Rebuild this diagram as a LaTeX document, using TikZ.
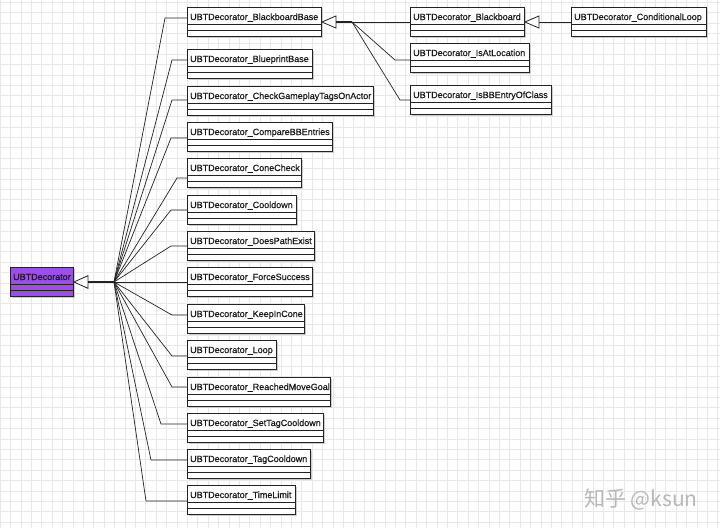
\documentclass[tikz,border=0pt]{standalone}
\usepackage{fontspec}
\setmainfont{Liberation Sans}
\newfontface\clsfont{Liberation Sans}[FakeBold=0.45]
\newfontfamily\cjk{Noto Sans CJK SC}
\definecolor{gridc}{RGB}{232,232,232}
\definecolor{purp}{RGB}{155,78,232}
\definecolor{linec}{RGB}{35,35,35}
\tikzset{
  clsbox/.style={draw=linec, line width=0.9pt, inner sep=0pt, minimum height=29pt, anchor=north west},
  clstext/.style={inner sep=0pt, anchor=base west, font=\clsfont\fontsize{9}{10}\selectfont, text=black!90},
  connline/.style={draw=linec, line width=0.7pt},
  thickline/.style={draw=linec, line width=1.8pt},
  inhtri/.style={draw=linec, line width=0.8pt, fill=white},
  shadowc/.style={fill=black!20},
  gridline/.style={draw=gridc, line width=0.5pt}
}
\newcommand{\umlcls}[6][white]{%
  \fill[shadowc] (#3+2,#4+2) rectangle ++(#5,29);
  \node[clsbox, fill=#1, minimum width=#5pt] (#2) at (#3,#4) {};
  \node[clstext] (#2t) at (#3+3,#4+13) {#6};
  \draw[linec, line width=0.8pt] (#3,#4+17) -- ++(#5,0) (#3,#4+23) -- ++(#5,0);
}
\newcommand{\connect}[4]{\draw[connline] (#1) -- (#3,#4) -- (#2.west |- #3,#4);}
\begin{document}
\begin{tikzpicture}[x=1pt,y=-1pt]
\useasboundingbox (0,0) rectangle (720,528);
\fill[white] (0,0) rectangle (720,528);
\foreach \i in {0,...,69} {\draw[gridline] (\i*10.4,0) -- (\i*10.4,528);}
\foreach \j in {0,...,50} {\draw[gridline] (0,2+\j*10.4) -- (720,2+\j*10.4);}

% base class
\umlcls[purp]{dec}{10}{267}{63}{UBTDecorator}

% left column
\umlcls{bbb}{187}{7}{134}{UBTDecorator\_BlackboardBase}
\umlcls{bpb}{187}{49}{125}{UBTDecorator\_BlueprintBase}
\umlcls{cgt}{187}{86}{186}{UBTDecorator\_CheckGameplayTagsOnActor}
\umlcls{cbe}{187}{122}{145}{UBTDecorator\_CompareBBEntries}
\umlcls{cc}{187}{158}{114}{UBTDecorator\_ConeCheck}
\umlcls{cd}{187}{195}{109}{UBTDecorator\_Cooldown}
\umlcls{dpe}{187}{231}{127}{UBTDecorator\_DoesPathExist}
\umlcls{fs}{187}{267}{125}{UBTDecorator\_ForceSuccess}
\umlcls{kic}{187}{304}{117}{UBTDecorator\_KeepInCone}
\umlcls{lp}{187}{340}{89}{UBTDecorator\_Loop}
\umlcls{rmg}{187}{377}{143}{UBTDecorator\_ReachedMoveGoal}
\umlcls{stc}{187}{413}{136}{UBTDecorator\_SetTagCooldown}
\umlcls{tc}{187}{449}{123}{UBTDecorator\_TagCooldown}
\umlcls{tl}{187}{485}{108}{UBTDecorator\_TimeLimit}

% right group
\umlcls{bb}{410}{7}{114}{UBTDecorator\_Blackboard}
\umlcls{ial}{410}{43}{119}{UBTDecorator\_IsAtLocation}
\umlcls{bec}{410}{85}{141}{UBTDecorator\_IsBBEntryOfClass}
\umlcls{cl}{571}{7}{135}{UBTDecorator\_ConditionalLoop}

% generalization to UBTDecorator
\coordinate (J) at (114,282);
\path (dec.east |- J) coordinate (tip1);
\draw[thickline] ([xshift=14pt]tip1) -- (J);
\draw[inhtri] (tip1) -- ++(14,-6.3) -- ++(0,12.6) -- cycle;
\connect{J}{bbb}{165}{18}
\connect{J}{bpb}{172}{60}
\connect{J}{cgt}{172}{100}
\connect{J}{cbe}{171}{138}
\connect{J}{cc}{177}{178}
\connect{J}{cd}{171}{210}
\connect{J}{dpe}{171}{246}
\draw[connline] (J) -- (fs.west |- J);
\connect{J}{kic}{172}{315}
\connect{J}{lp}{172}{356}
\connect{J}{rmg}{172}{387}
\connect{J}{stc}{161}{424}
\connect{J}{tc}{151}{460}
\connect{J}{tl}{146}{501}

% generalization to BlackboardBase
\coordinate (J2) at (352,22);
\path (bbb.east |- J2) coordinate (tip2);
\draw[thickline] ([xshift=14pt]tip2) -- (J2);
\draw[inhtri] (tip2) -- ++(14,-6) -- ++(0,12) -- cycle;
\draw[connline] (J2) -- (bb.west |- J2);
\connect{J2}{ial}{395}{60}
\connect{J2}{bec}{400}{100}

% generalization to Blackboard
\path (bb.east |- J2) coordinate (tip3);
\draw[connline] ([xshift=14pt]tip3) -- (cl.west |- J2);
\draw[inhtri] (tip3) -- ++(14,-6) -- ++(0,12) -- cycle;

% watermark
\node[inner sep=0pt, anchor=base west, font=\cjk\fontsize{21}{22}\selectfont, text=black!28] (wm) at (584,506) {知乎 @ksun};
\end{tikzpicture}
\end{document}
